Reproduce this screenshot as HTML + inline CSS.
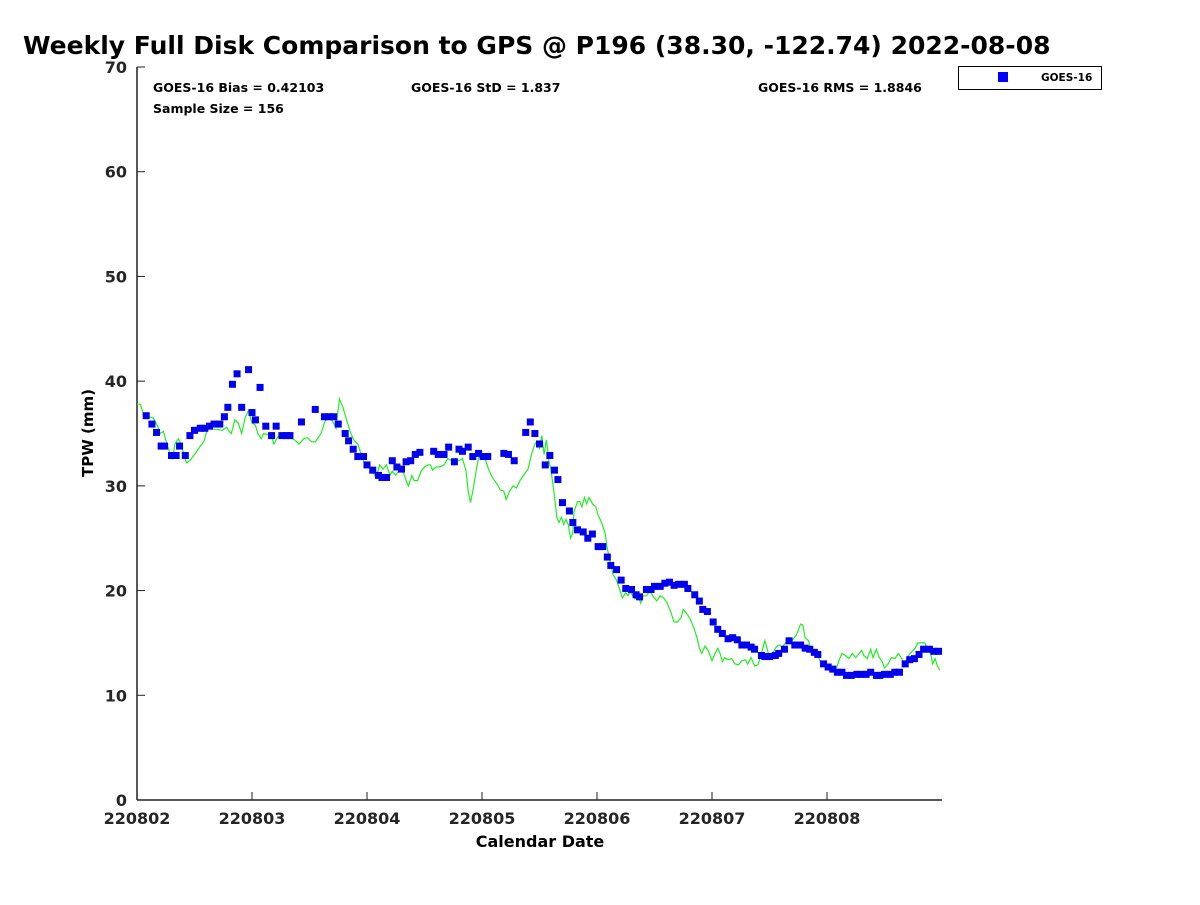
<!DOCTYPE html>
<html><head><meta charset="utf-8"><style>
body{margin:0;background:#fff}
svg text{font-family:"DejaVu Sans","Liberation Sans",sans-serif;font-weight:bold}
</style></head><body>
<svg id="chart" width="1200" height="900" xmlns="http://www.w3.org/2000/svg">
<rect width="1200" height="900" fill="#fff"/>
<text x="23" y="54" font-size="25">Weekly Full Disk Comparison to GPS @ P196 (38.30, -122.74) 2022-08-08</text>
<text x="153" y="92" font-size="12.5">GOES-16 Bias = 0.42103</text>
<text x="153" y="113" font-size="12.5">Sample Size = 156</text>
<text x="411" y="92" font-size="12.5">GOES-16 StD = 1.837</text>
<text x="758" y="92" font-size="12.5">GOES-16 RMS = 1.8846</text>
<g>
<rect x="958.5" y="66.5" width="143" height="23" fill="#fff" stroke="#000" stroke-width="1"/>
<rect x="998" y="72" width="10" height="10" fill="#0000ff"/>
<text x="1041" y="81" font-size="10.5">GOES-16</text>
</g>
<g id="axes"></g>
<g id="marks"></g>
<text x="540" y="847" font-size="16" text-anchor="middle">Calendar Date</text>
<text transform="translate(93,433) rotate(-90)" font-size="15" text-anchor="middle">TPW (mm)</text>
</svg>
<script>
const xTickLabels=["220802","220803","220804","220805","220806","220807","220808"];
const yTicks=[0,10,20,30,40,50,60,70];
const goesDays=[0.08,0.13,0.17,0.21,0.24,0.30,0.34,0.37,0.42,0.46,0.50,0.55,0.59,0.63,0.67,0.72,0.76,0.79,0.83,0.87,0.91,0.97,1.00,1.03,1.07,1.12,1.17,1.21,1.26,1.30,1.33,1.43,1.55,1.63,1.67,1.71,1.75,1.81,1.84,1.88,1.92,1.97,2.00,2.05,2.10,2.13,2.17,2.22,2.26,2.30,2.34,2.38,2.42,2.46,2.58,2.62,2.67,2.71,2.76,2.80,2.83,2.88,2.92,2.97,3.01,3.05,3.19,3.23,3.28,3.38,3.42,3.46,3.50,3.55,3.59,3.63,3.66,3.70,3.76,3.79,3.83,3.88,3.92,3.96,4.01,4.05,4.09,4.12,4.17,4.21,4.25,4.30,4.34,4.37,4.43,4.47,4.50,4.55,4.59,4.63,4.67,4.71,4.76,4.79,4.85,4.89,4.92,4.96,5.01,5.05,5.09,5.14,5.18,5.22,5.26,5.30,5.34,5.37,5.43,5.46,5.50,5.55,5.58,5.63,5.67,5.72,5.77,5.81,5.85,5.89,5.92,5.97,6.01,6.05,6.09,6.13,6.17,6.21,6.26,6.30,6.34,6.38,6.43,6.46,6.50,6.55,6.59,6.63,6.68,6.72,6.76,6.80,6.84,6.89,6.93,6.97];
const goesTPW=[36.7,35.9,35.1,33.8,33.8,32.9,32.9,33.8,32.9,34.8,35.3,35.5,35.5,35.7,35.9,35.9,36.6,37.5,39.7,40.7,37.5,41.1,37.0,36.3,39.4,35.7,34.8,35.7,34.8,34.8,34.8,36.1,37.3,36.6,36.6,36.6,35.9,35.0,34.3,33.5,32.8,32.8,32.0,31.5,31.0,30.8,30.8,32.4,31.8,31.6,32.3,32.4,33.0,33.2,33.3,33.0,33.0,33.7,32.3,33.5,33.3,33.7,32.8,33.1,32.8,32.8,33.1,33.0,32.4,35.1,36.1,35.0,34.0,32.0,32.9,31.5,30.6,28.4,27.6,26.5,25.8,25.6,25.0,25.4,24.2,24.2,23.2,22.4,22.0,21.0,20.2,20.1,19.6,19.4,20.1,20.1,20.4,20.4,20.7,20.8,20.5,20.6,20.6,20.2,19.6,19.0,18.2,18.0,17.0,16.3,15.9,15.4,15.5,15.3,14.8,14.8,14.6,14.4,13.8,13.7,13.7,13.8,14.0,14.4,15.2,14.8,14.8,14.5,14.4,14.1,13.9,13.0,12.7,12.5,12.2,12.2,11.9,11.9,12.0,12.0,12.0,12.2,11.9,11.9,12.0,12.0,12.2,12.2,13.0,13.4,13.5,13.9,14.4,14.4,14.2,14.2];
const gpsDays=[0,.03,.06,.1,.14,.18,.2,.23,.26,.29,.31,.33,.36,.38,.40,.43,.46,.50,.55,.58,.62,.66,.70,.74,.78,.80,.82,.85,.88,.91,.94,.97,1.0,1.03,1.05,1.08,1.10,1.13,1.17,1.19,1.22,1.25,1.28,1.31,1.35,1.38,1.41,1.45,1.48,1.52,1.55,1.6,1.63,1.66,1.68,1.71,1.73,1.76,1.79,1.83,1.86,1.89,1.92,1.95,1.98,2.02,2.05,2.08,2.11,2.14,2.17,2.20,2.22,2.25,2.28,2.31,2.34,2.36,2.39,2.41,2.44,2.47,2.50,2.53,2.55,2.57,2.6,2.63,2.67,2.7,2.74,2.77,2.80,2.83,2.86,2.88,2.90,2.92,2.95,2.97,3.0,3.03,3.06,3.09,3.13,3.16,3.19,3.21,3.24,3.27,3.30,3.33,3.36,3.40,3.43,3.46,3.48,3.50,3.52,3.54,3.56,3.58,3.60,3.63,3.65,3.67,3.69,3.71,3.73,3.75,3.77,3.79,3.80,3.83,3.85,3.87,3.89,3.91,3.93,3.96,3.99,4.01,4.04,4.07,4.09,4.12,4.14,4.17,4.20,4.22,4.25,4.27,4.29,4.31,4.33,4.36,4.38,4.40,4.43,4.46,4.49,4.52,4.55,4.58,4.61,4.64,4.67,4.70,4.73,4.75,4.78,4.81,4.84,4.87,4.89,4.91,4.94,4.97,5.00,5.03,5.05,5.07,5.09,5.11,5.14,5.17,5.20,5.23,5.26,5.29,5.31,5.34,5.37,5.40,5.43,5.46,5.49,5.52,5.55,5.58,5.61,5.64,5.67,5.70,5.73,5.75,5.77,5.79,5.81,5.84,5.86,5.89,5.92,5.95,5.98,6.01,6.04,6.07,6.10,6.13,6.16,6.19,6.22,6.25,6.28,6.30,6.32,6.35,6.38,6.40,6.43,6.45,6.48,6.50,6.53,6.56,6.59,6.62,6.65,6.67,6.70,6.73,6.76,6.79,6.82,6.85,6.87,6.90,6.92,6.94,6.96,6.98];
const gpsTPW=[37.8,37.8,36.7,36.6,36.5,35.7,35.0,35.2,34.0,33.0,32.6,34.0,34.5,34.0,33.3,32.2,32.4,33.0,33.8,34.2,35.7,35.4,35.4,35.3,35.6,35.2,35.0,36.3,36.0,35.0,36.5,37.2,36.0,35.8,35.0,34.5,35.0,34.9,34.7,34.0,34.6,35.0,34.8,35.0,34.5,34.3,34.0,34.5,34.6,34.2,34.2,35.0,36.0,36.8,36.5,36.0,35.5,38.3,37.5,36.0,35.0,34.3,34.0,33.0,32.0,32.0,31.3,30.8,32.0,31.6,32.0,31.0,31.4,31.0,31.5,31.5,30.5,30.0,31.0,30.5,30.5,31.4,31.8,32.0,32.0,31.5,31.8,31.8,32.0,32.6,32.4,32.6,32.4,32.6,31.5,29.5,28.4,29.5,31.5,32.7,32.9,32.5,31.5,30.8,30.2,29.6,29.5,28.7,29.5,30.0,29.8,30.5,31.0,31.6,33.0,34.0,34.2,33.6,34.8,33.0,34.4,32.5,31.5,29.0,27.0,26.5,27.0,26.3,26.8,26.3,25.0,25.5,27.5,28.5,28.5,28.0,28.9,28.3,28.9,28.3,28.0,27.2,26.5,25.5,24.0,22.5,21.5,21.0,20.0,19.3,19.8,19.5,20.0,19.5,19.2,19.5,18.8,19.5,19.5,20.0,19.4,19.0,19.5,19.3,18.8,18.0,17.0,17.0,17.4,18.2,17.8,17.3,16.5,15.5,14.5,14.0,14.7,14.2,13.3,14.1,14.5,14.0,13.2,13.6,13.4,13.5,13.0,12.9,13.3,13.4,13.0,13.6,12.8,12.9,14.0,15.2,14.0,13.8,14.5,14.8,14.6,15.0,15.5,15.3,15.7,16.2,16.8,16.7,15.5,15.2,14.3,14.3,13.8,13.0,12.9,12.5,12.3,12.2,13.2,14.0,13.8,13.5,14.0,13.6,14.0,14.3,13.8,13.5,14.4,13.6,14.4,13.7,13.2,12.6,13.0,13.6,13.5,14.0,13.5,12.8,13.7,14.1,14.4,15.0,15.0,15.0,14.5,14.0,13.0,13.5,12.8,12.4];

const NS='http://www.w3.org/2000/svg';
const X0=137,X1=942,Y0=800,Y1=67;
function xs(d){return X0+d*(X1-X0)/7;}
function ys(v){return Y0-v*(Y0-Y1)/70;}
function mk(tag,attrs,parent){const e=document.createElementNS(NS,tag);for(const k in attrs)e.setAttribute(k,attrs[k]);parent.appendChild(e);return e;}
const axes=document.getElementById('axes'),marks=document.getElementById('marks');
const ya=mk('line',{x1:X0,y1:Y1,x2:X0,y2:Y0,stroke:'#222','stroke-width':1.5},axes);


const xa=mk('line',{x1:X0,y1:Y0,x2:X1,y2:Y0,stroke:'#222','stroke-width':1.5},axes);


yTicks.forEach(v=>{
  const y=ys(v);
  mk('line',{x1:X0,y1:y,x2:X0+8,y2:y,stroke:'#222'},axes);
  const t=mk('text',{x:X0-10,y:y+6,'font-size':16,'text-anchor':'end',fill:'#262626'},axes);
  t.textContent=v;
  
  
});
xTickLabels.forEach((lab,i)=>{
  const x=xs(i);
  mk('line',{x1:x,y1:Y0,x2:x,y2:Y0-8,stroke:'#222'},axes);
  const t=mk('text',{x:x,y:Y0+24,'font-size':16,'text-anchor':'middle',fill:'#262626'},axes);
  t.textContent=lab;
  
  
});
const pl=mk('polyline',{points:gpsDays.map((d,i)=>xs(d).toFixed(1)+','+ys(gpsTPW[i]).toFixed(1)).join(' '),fill:'none',stroke:'#22ee22','stroke-width':1.2},marks);


goesDays.forEach((d,i)=>{
  const r=mk('rect',{x:xs(d)-3.5,y:ys(goesTPW[i])-3.5,width:7,height:7,fill:'#0000ee'},marks);
  
  
});
</script>
</body></html>
